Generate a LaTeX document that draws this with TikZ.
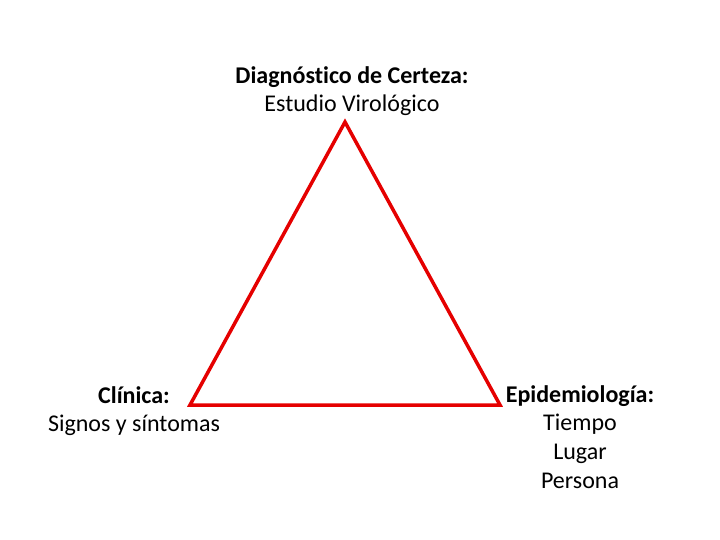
\documentclass[tikz,border=0pt]{standalone}
\usepackage{fontspec}
\setmainfont{Carlito}[Ligatures={NoCommon}]
\usetikzlibrary{positioning}
\begin{document}
\begin{tikzpicture}[x=1pt,y=-1pt,
    label text/.style={align=center, font=\fontsize{24}{28.7}\selectfont, inner sep=0pt},
    triangle line/.style={draw=red!90!black, line width=3.5pt, line join=miter}]
        \useasboundingbox (0,0) rectangle (720,540);
        % Vertices
        \coordinate (vtop) at (345,122);
        \coordinate (vleft) at (190,405);
        \coordinate (vright) at (500,405);
        % Triangle
        \draw [triangle line] (vtop) -- (vleft) -- (vright) -- cycle;
        % Texts
        \node [label text] (certeza) at (352,91) {\textbf{Diagnóstico de Certeza:}\\Estudio Virológico};
        \node [label text] (clinica) at (134,411) {\textbf{Clínica:}\\Signos y síntomas};
        \node [label text] (epidemio) at (580,437) {\textbf{Epidemiología:}\\Tiempo\\Lugar\\Persona};
    \end{tikzpicture}
\end{document}
